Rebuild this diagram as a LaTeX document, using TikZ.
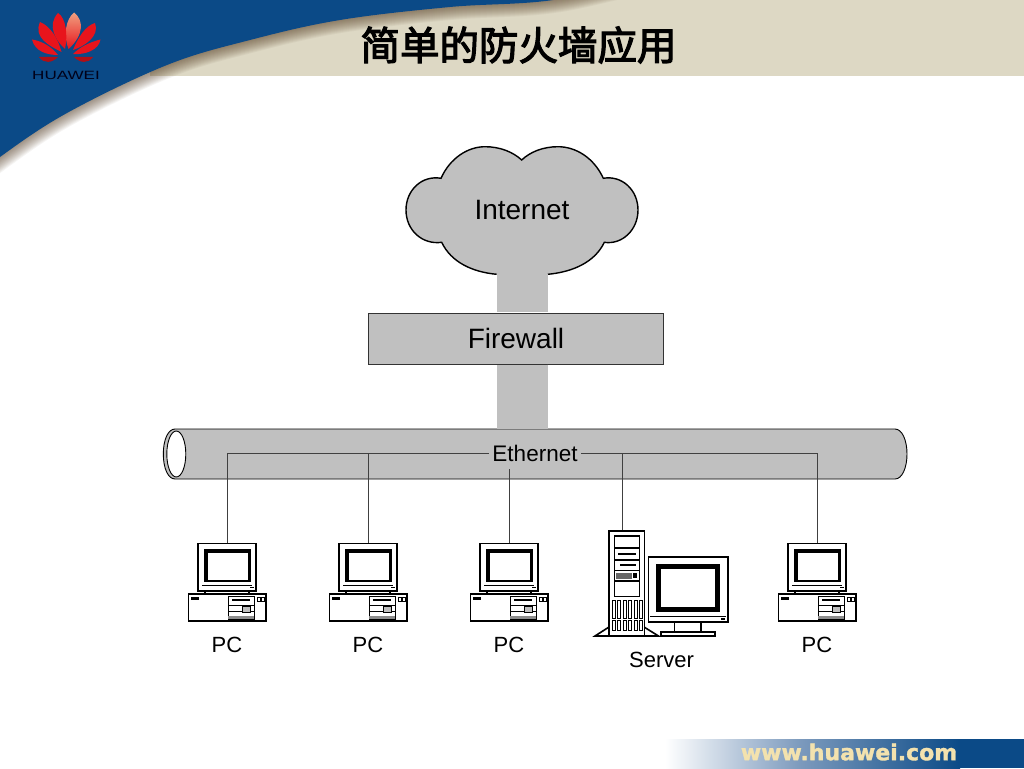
\documentclass[tikz,border=0pt]{standalone}
\usepackage{fontspec}
\setmainfont{Liberation Sans}
\newfontfamily\cjkfont[FakeBold=3]{Noto Sans CJK SC}
\newfontfamily\webfont[FakeBold=1.5]{DejaVu Sans Bold}
\definecolor{hwblue}{HTML}{0B4A87}
\definecolor{hwmid}{HTML}{7C9ABD}
\definecolor{hwbeige}{HTML}{DDD8C4}
\definecolor{netgray}{HTML}{C0C0C0}
\definecolor{hwred}{HTML}{E8141C}
\definecolor{hwdark}{HTML}{B00F16}
\definecolor{hwpale}{HTML}{F0A080}
\definecolor{webcream}{HTML}{F3E2AE}
\tikzset{
  x=1pt,y=-1pt,
  wire/.style={draw=black!75,line width=.9pt},
  outline/.style={draw=black,line width=1.4pt},
  thick icon/.style={draw=black,line width=1.6pt,fill=white},
  petal/.style={fill=hwred,draw=none},
  label/.style={inner sep=0pt,font=\fontsize{22}{24}\selectfont},
  big label/.style={inner sep=0pt,font=\fontsize{28}{30}\selectfont},
  holder/.style={inner sep=0pt,minimum width=78pt,minimum height=77pt},
  pc icon/.pic={
    % monitor (origin: top centre of the monitor)
    \draw[thick icon] (-29,0) rectangle (29,47.5);
    \fill[black] (-23,6) rectangle (24,39);
    \fill[white] (-19,9.5) rectangle (21,36.5);
    \draw[black,line width=.7pt] (-25,42) -- (25,42);
    \fill[black] (23,43.5) rectangle (27,45);
    \draw[thick icon] (-22,47.5) rectangle (22,50.5);
    % base unit
    \draw[thick icon] (-38.5,50.5) rectangle (39,77.5);
    \fill[black] (-36,54) rectangle (-28,56.5);
    \draw[black,line width=.6pt,fill=white] (1,53) rectangle (27,76);
    \fill[black] (5,56) rectangle (23,58);
    \draw[black,line width=.6pt] (1,62) -- (27,62) (1,68) -- (27,68);
    \draw[black,line width=.6pt,fill=black!25] (15,63) rectangle (23,69);
    \fill[black!45] (1,73) rectangle (27,76);
    \draw[black,line width=.6pt] (30,54) rectangle (33,58) (34,54) rectangle (37,58);
  }
}
\begin{document}
\begin{tikzpicture}
\useasboundingbox (0,0) rectangle (1024,768);
\fill[white] (0,0) rectangle (1024,768);
% header
\fill[hwbeige] (150,0) rectangle (1024,76);
\foreach \w in {2,4,...,26}{
  \draw[black!60!brown,opacity=.05,line width=\w pt] plot[smooth,tension=.6] coordinates {(-40,190) (0,157) (67,113) (167,65) (250,40) (340,20) (450,7) (560,-1) (680,-30)};
}
\fill[hwblue] plot[smooth,tension=.6] coordinates {(-40,190) (0,157) (67,113) (167,65) (250,40) (340,20) (450,7) (560,-1) (680,-30)} -- (-40,-30) -- cycle;
% logo
\shade[top color=hwpale,bottom color=hwred] (68.5,49) .. controls (63,35) and (66,19) .. (74,12.5) .. controls (84,20) and (84,35) .. (68.5,49) -- cycle;
\fill[petal] (65,49) .. controls (55,40) and (47,25) .. (58,13) .. controls (66,18) and (68,35) .. (65,49) -- cycle;
\fill[petal] (61.5,52) .. controls (50,46) and (33,38) .. (40,22) .. controls (50,26) and (58,38) .. (61.5,52) -- cycle;
\fill[petal] (73,50) .. controls (78,38) and (85,26) .. (95,23) .. controls (100,36) and (85,46) .. (73,50) -- cycle;
\fill[petal] (58,55) .. controls (48,55) and (35,52) .. (32,39.5) .. controls (42,41) and (52,47) .. (58,55) -- cycle;
\fill[petal] (73,54) .. controls (80,47) and (90,42) .. (100.5,39.5) .. controls (99,50) and (85,55) .. (73,54) -- cycle;
\fill[hwdark] (58,57) .. controls (52,63) and (44,64) .. (39,57) -- cycle;
\fill[hwdark] (74,57) .. controls (80,63) and (88,64) .. (93,57) -- cycle;
\node[inner sep=0pt,xscale=1.42,text=black!90!blue,font=\fontsize{12}{12}\selectfont] (logotext) at (66,75) {HUAWEI};
% title
\node[inner sep=0pt,font=\cjkfont\fontsize{39.5}{44}\selectfont] (title) at (518.5,45) {简单的防火墙应用};
% footer
\shade[left color=white,right color=hwmid] (665,739) rectangle (800,768);
\shade[left color=hwmid,right color=hwblue] (800,739) rectangle (960,768);
\fill[hwblue] (960,739) rectangle (1024,768);
\node[inner sep=0pt,text=webcream,font=\webfont\fontsize{22}{24}\selectfont] (web) at (849,752) {www.huawei.com};
% cloud
\path[fill=netgray] (496.7,274.3) .. controls (472,272) and (451,262) .. (441.7,242.3)
  .. controls (422,245) and (406,230) .. (406,210) .. controls (406,190) and (422,175) .. (441,178.3)
  .. controls (450,158) and (468,146.7) .. (485,146.7) .. controls (500,146.7) and (513,152) .. (521.7,160)
  .. controls (530,152) and (543,146.7) .. (558,146.7) .. controls (576,146.7) and (594,158) .. (603.3,178.3)
  .. controls (622,175) and (638,190) .. (638,210) .. controls (638,230) and (622,245) .. (604.3,242.3)
  .. controls (595,262) and (573,272) .. (547.7,274.3) -- cycle;
\draw[outline] (496.7,274.3) .. controls (472,272) and (451,262) .. (441.7,242.3)
  .. controls (422,245) and (406,230) .. (406,210) .. controls (406,190) and (422,175) .. (441,178.3)
  .. controls (450,158) and (468,146.7) .. (485,146.7) .. controls (500,146.7) and (513,152) .. (521.7,160)
  .. controls (530,152) and (543,146.7) .. (558,146.7) .. controls (576,146.7) and (594,158) .. (603.3,178.3)
  .. controls (622,175) and (638,190) .. (638,210) .. controls (638,230) and (622,245) .. (604.3,242.3)
  .. controls (595,262) and (573,272) .. (547.7,274.3);
\node[big label] (inet) at (522,210) {Internet};
% ethernet pipe
\path[fill=netgray,draw=black,line width=.9pt] (175,429) -- (895,429) .. controls (902,429) and (907,440) .. (907,454) .. controls (907,468) and (902,479) .. (895,479) -- (175,479) .. controls (168,479) and (163.3,468) .. (163.3,454) .. controls (163.3,440) and (168,429) .. (175,429) -- cycle;
\draw[fill=white,draw=black,line width=.9pt] (176.3,454) ellipse [x radius=9.5pt,y radius=23pt];
% firewall
\node[draw=black!80,line width=.6pt,fill=netgray,minimum width=295pt,minimum height=51pt,inner sep=0pt] (fw) at (515.5,338.5) {};
\node[big label] (fwlabel) at (516,338) {Firewall};
\coordinate (pipetop) at (522,428.5);
\coordinate (fwtop) at ([yshift=.4pt]fw.north);
\coordinate (fwbot) at ([yshift=-.4pt]fw.south);
\draw[netgray,line width=51pt] (inet |- 0,274) -- (inet |- fwtop);
\draw[netgray,line width=51pt] (inet |- fwbot) -- (pipetop);
% ethernet label and devices
\node[fill=netgray,inner xsep=3pt,inner ysep=0pt,minimum height=30pt,font=\fontsize{22.5}{24}\selectfont] (eth) at (535,453.3) {Ethernet};
\node[holder] (pc1) at (227,582) {};
\node[holder] (pc2) at (368,582) {};
\node[holder] (pc3) at (509,582) {};
\node[holder] (pc4) at (817,582) {};
\coordinate (server) at (622,530.7);
\foreach \n in {pc1,pc2,pc3,pc4}{ \pic at (\n.north) {pc icon}; }
\node[label] (l1) at (227,645) {PC};
\node[label] (l2) at (368,645) {PC};
\node[label] (l3) at (509,645) {PC};
\node[label] (l4) at (817,645) {PC};
\node[label] (l5) at (661.5,660) {Server};
\draw[wire] (pc1.north) |- (eth.west);
\draw[wire] (pc2.north) |- (eth.west);
\draw[wire] (pc3.north) -- (pc3.north |- eth.south);
\draw[wire] (server) |- (eth.east);
\draw[wire] (pc4.north) |- (eth.east);
% server tower
\draw[thick icon] (595,636) -- (609,627) -- (609,636) -- cycle;
\draw[thick icon] (644,627) -- (658.5,636) -- (644,636) -- cycle;
\draw[thick icon] (609,530.7) rectangle (644.3,636);
\fill[black] (613.5,535) rectangle (640,597);
\fill[white] (615,537) rectangle (638.5,546.5);
\fill[white] (615,548.5) rectangle (638.5,559);
\fill[white] (615,561) rectangle (638.5,569.5);
\fill[white] (615,571) rectangle (638.5,580);
\fill[white] (615,582) rectangle (638.5,595.5);
\fill[black] (618,553) rectangle (636,555);
\fill[black] (620,564) rectangle (636,566);
\fill[black!60] (616,572.5) rectangle (632,578.5);
\fill[black] (633,572.5) rectangle (637,578);
\foreach \vx in {612,617.5,623,628.5,634,639.5}{
  \draw[black,line width=.6pt] (\vx,600) rectangle ++(3,18.5);
  \draw[black,line width=.6pt] (\vx,620.5) rectangle ++(3,10);
}
% server monitor
\draw[thick icon] (648.3,556.7) rectangle (727.7,621.7);
\fill[black] (655.7,564) rectangle (720,611.7);
\fill[white] (661,569.3) rectangle (715,607.3);
\draw[black,line width=.7pt] (650,616.5) -- (726,616.5);
\fill[black] (721,617.5) rectangle (725,619.5);
\draw[thick icon] (674.3,621.7) rectangle (701,631.7);
\draw[thick icon] (661,631.7) rectangle (715,636);
\end{tikzpicture}
\end{document}
